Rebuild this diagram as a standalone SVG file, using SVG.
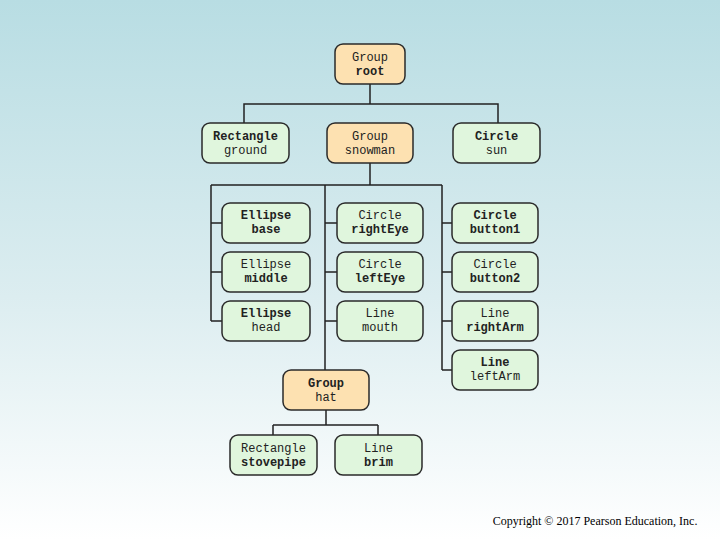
<svg xmlns="http://www.w3.org/2000/svg" width="720" height="540" viewBox="0 0 720 540">
<defs>
<linearGradient id="bg" x1="0" y1="0" x2="0" y2="1">
<stop offset="0" stop-color="#b8dde3"/>
<stop offset="0.55" stop-color="#dcedf0"/>
<stop offset="1" stop-color="#ffffff"/>
</linearGradient>
</defs>
<style>
.g rect{fill:#e0f6dd;stroke:#2a2a2a;stroke-width:1.5}
.o rect{fill:#fde1b1;stroke:#2a2a2a;stroke-width:1.5}
text{font-family:"Liberation Mono","DejaVu Sans Mono",monospace;font-size:12px;text-anchor:middle;fill:#222}
.b{font-weight:bold}
#conn path{fill:none;stroke:#222;stroke-width:1.5}
</style>
<rect width="720" height="540" fill="url(#bg)"/>
<g id="conn">
<path d="M370 84V104M244 123V104H498V123"/>
<path d="M370 163V185M211 185H442"/>
<path d="M211 185V321M211 223H222M211 272H222M211 321H222"/>
<path d="M325 185V370M325 223H337M325 272H337M325 321H337"/>
<path d="M442 185V370M442 223H452M442 272H452M442 321H452M442 370H452"/>
<path d="M326 410V425M273 425H378M273 425V435M378 425V435"/>
</g>
<g id="root" class="o"><rect x="335" y="44" width="70" height="40" rx="8"/><text x="370" y="61">Group</text><text x="370" y="75" class="b">root</text></g>
<g id="ground" class="g"><rect x="202" y="123" width="87" height="40" rx="8"/><text x="245.5" y="140" class="b">Rectangle</text><text x="245.5" y="154">ground</text></g>
<g id="snowman" class="o"><rect x="327" y="123" width="86" height="40" rx="8"/><text x="370" y="140">Group</text><text x="370" y="154">snowman</text></g>
<g id="sun" class="g"><rect x="453" y="123" width="87" height="40" rx="8"/><text x="496.5" y="140" class="b">Circle</text><text x="496.5" y="154">sun</text></g>
<g id="base" class="g"><rect x="222" y="203" width="88" height="40" rx="8"/><text x="266" y="219" class="b">Ellipse</text><text x="266" y="233" class="b">base</text></g>
<g id="middle" class="g"><rect x="222" y="252" width="88" height="40" rx="8"/><text x="266" y="268">Ellipse</text><text x="266" y="282" class="b">middle</text></g>
<g id="head" class="g"><rect x="222" y="301" width="88" height="40" rx="8"/><text x="266" y="317" class="b">Ellipse</text><text x="266" y="331">head</text></g>
<g id="rightEye" class="g"><rect x="337" y="203" width="86" height="40" rx="8"/><text x="380" y="219">Circle</text><text x="380" y="233" class="b">rightEye</text></g>
<g id="leftEye" class="g"><rect x="337" y="252" width="86" height="40" rx="8"/><text x="380" y="268">Circle</text><text x="380" y="282" class="b">leftEye</text></g>
<g id="mouth" class="g"><rect x="337" y="301" width="86" height="40" rx="8"/><text x="380" y="317">Line</text><text x="380" y="331">mouth</text></g>
<g id="button1" class="g"><rect x="452" y="203" width="86" height="40" rx="8"/><text x="495" y="219" class="b">Circle</text><text x="495" y="233" class="b">button1</text></g>
<g id="button2" class="g"><rect x="452" y="252" width="86" height="40" rx="8"/><text x="495" y="268">Circle</text><text x="495" y="282" class="b">button2</text></g>
<g id="rightArm" class="g"><rect x="452" y="301" width="86" height="40" rx="8"/><text x="495" y="317">Line</text><text x="495" y="331" class="b">rightArm</text></g>
<g id="leftArm" class="g"><rect x="452" y="350" width="86" height="40" rx="8"/><text x="495" y="366" class="b">Line</text><text x="495" y="380">leftArm</text></g>
<g id="hat" class="o"><rect x="283" y="370" width="86" height="40" rx="8"/><text x="326" y="387" class="b">Group</text><text x="326" y="401">hat</text></g>
<g id="stovepipe" class="g"><rect x="230" y="435" width="87" height="40" rx="8"/><text x="273.5" y="452">Rectangle</text><text x="273.5" y="466" class="b">stovepipe</text></g>
<g id="brim" class="g"><rect x="335" y="435" width="87" height="40" rx="8"/><text x="378.5" y="452">Line</text><text x="378.5" y="466" class="b">brim</text></g>
<text x="595" y="525" style="font-family:'Liberation Serif','Times New Roman',serif;font-size:12px;fill:#000">Copyright © 2017 Pearson Education, Inc.</text>
</svg>
